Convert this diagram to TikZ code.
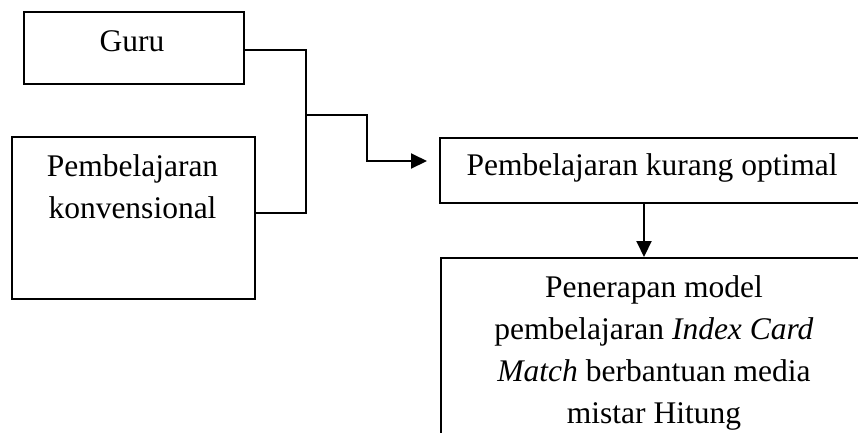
\documentclass[tikz,border=0pt]{standalone}
\usepackage{fontspec}
\setmainfont{Liberation Serif}
\usetikzlibrary{arrows.meta,calc}
\begin{document}
\begin{tikzpicture}[x=1pt,y=-1pt,
  box/.style={draw,line width=2pt,inner sep=0pt,anchor=north west},
  txt/.style={font=\fontsize{31.5}{42}\selectfont,align=center,inner sep=0pt},
  conn/.style={line width=2pt},
  arr/.style={conn,-{Triangle[length=16pt,width=15pt]}}]
\useasboundingbox (0,0) rectangle (858,432);
\clip (0,0) rectangle (858,432);
% boxes
\node[box,minimum width=220pt,minimum height=72pt] (guru) at (23,11) {};
\node[box,minimum width=243pt,minimum height=162pt] (konv) at (11,136) {};
\node[box,minimum width=428pt,minimum height=65pt] (kurang) at (439,137) {};
\node[box,minimum width=428pt,minimum height=200pt] (pener) at (440,257) {};
% texts
\node[txt,anchor=base] (gurut) at (132,51) {Guru};
\node[txt,anchor=north] (konvt) at (132.5,154.5) {Pembelajaran\\konvensional};
\node[txt,anchor=base] (kurangt) at (652,175) {Pembelajaran kurang optimal};
\node[txt,anchor=north] (penert) at (654,275.5) {Penerapan model\\pembelajaran \textit{Index Card}\\\textit{Match} berbantuan media\\mistar Hitung};
% connectors
\coordinate (jt) at (306,50);
\coordinate (jb) at (306,213);
\coordinate (jm) at (306,115);
\coordinate (bend) at (367,115);
\coordinate (tip) at (427,161);
\coordinate (va) at (644,0);
\draw[conn] (guru.east |- jt) -- (jt) -- (jb) -- (konv.east |- jb);
\draw[arr] (jm) -- (bend) |- (tip);
\draw[arr] (kurang.south -| va) -- (pener.north -| va);
\end{tikzpicture}
\end{document}
